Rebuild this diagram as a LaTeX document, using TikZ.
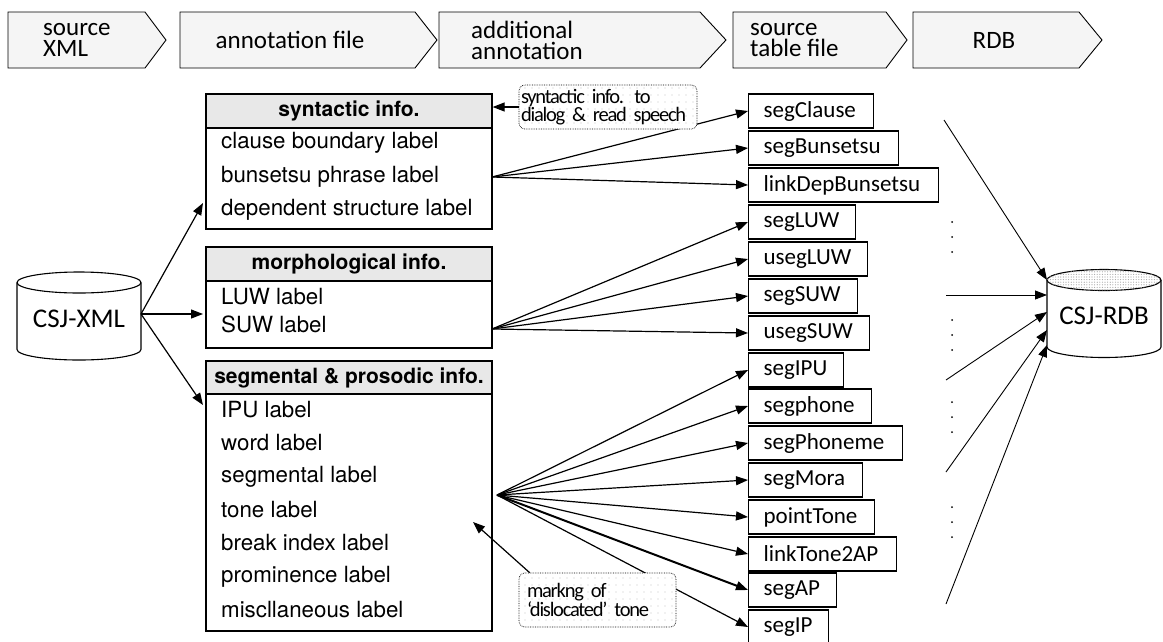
\documentclass[tikz,border=0pt]{standalone}
\usepackage{fontspec}
\setmainfont{Carlito}
\newfontfamily\gothic{TeX Gyre Heros}
\newfontfamily\notefont[LetterSpace=-6,WordSpace=0.7]{Carlito}
\usetikzlibrary{arrows.meta,patterns.meta}
\begin{document}
\begin{tikzpicture}[x=1pt,y=-1pt,
 chev/.style={draw, line width=0.9pt, fill=gray!8},
 chevtxt/.style={font=\fontsize{25}{21}\selectfont, align=left, inner sep=0pt},
 hdr/.style={draw, line width=1.3pt, fill=gray!18, minimum width=286pt, inner sep=0pt, font=\gothic\bfseries\fontsize{21}{24}\selectfont},
 bodybox/.style={draw, line width=1.3pt, fill=white, inner sep=0pt, minimum width=286pt},
 row/.style={anchor=west, inner sep=0pt, font=\gothic\fontsize{22.3}{24}\selectfont},
 tbl/.style={draw, line width=1.2pt, anchor=west, minimum height=34pt, inner xsep=15pt, inner ysep=0pt, align=left, font=\fontsize{23}{24}\selectfont},
 arr/.style={line width=1.2pt, -{Triangle[length=12pt,width=9pt]}},
 rarr/.style={line width=0.9pt, -{Triangle[length=12pt,width=9pt]}},
 note/.style={draw, densely dotted, line width=0.7pt, rounded corners=6pt, fill=white, postaction={pattern={Dots[radius=0.7pt,distance=7pt]}, pattern color=gray!45}, inner ysep=0pt, font=\notefont\fontsize{20.5}{17}\selectfont, align=left},
 cyl/.style={draw, line width=1.1pt, fill=white},
 dot/.style={fill=black, circle, inner sep=0pt, minimum size=2pt},
]
\useasboundingbox (0,0) rectangle (1163,641);
\fill[white] (0,0) rectangle (1163,641);

% header chevrons
\draw[chev] (8,12) -- (145,12) -- (166,40) -- (145,68) -- (8,68) -- cycle;
\draw[chev] (180,12) -- (415,12) -- (437,40) -- (415,68) -- (180,68) -- cycle;
\draw[chev] (439,12) -- (700,12) -- (726,40) -- (700,68) -- (439,68) -- cycle;
\draw[chev] (733,12) -- (886,12) -- (907,40) -- (886,68) -- (733,68) -- cycle;
\draw[chev] (913,12) -- (1079,12) -- (1102,40) -- (1079,68) -- (913,68) -- cycle;
\node[chevtxt, anchor=west] (h1) at (43,40) {source\\XML};
\node[chevtxt] (h2) at (290,40) {annotation file};
\node[chevtxt, anchor=west] (h3) at (471,40) {additional\\annotation};
\node[chevtxt, anchor=west] (h4) at (750,40) {source\\table file};
\node[chevtxt] (h5) at (994,40) {RDB};

% CSJ-XML cylinder
\draw[cyl] (17,282.5) -- (17,349.5) arc[start angle=180,end angle=0,x radius=62,y radius=10.5] -- (141,282.5);
\draw[line width=1.1pt, fill=white] (79,282.5) ellipse[x radius=62,y radius=10.5];
\node[font=\fontsize{27}{30}\selectfont] (xml) at (79,319) {CSJ-XML};
\coordinate (xs) at (141,314);

% annotation boxes
\node[bodybox, minimum height=101pt] (synb) at (349,178.5) {};
\node[hdr, minimum height=34pt] (synh) at (349,111) {syntactic info.};
\node[row] (s1) at (221,143) {clause boundary label};
\node[row] (s2) at (221,177) {bunsetsu phrase label};
\node[row] (s3) at (221,210) {dependent structure label};

\node[bodybox, minimum height=67pt] (morb) at (349,314.5) {};
\node[hdr, minimum height=34pt] (morh) at (349,264) {morphological info.};
\node[row] (m1) at (221,297) {LUW label};
\node[row] (m2) at (221,324) {SUW label};

\node[bodybox, minimum height=237pt] (segb) at (349,512.5) {};
\node[hdr, minimum height=33pt] (segh) at (349,377.5) {segmental \& prosodic info.};
\node[row] (g1) at (221,410) {IPU label};
\node[row] (g2) at (221,443) {word label};
\node[row] (g3) at (221,477) {segmental label};
\node[row] (g4) at (221,510) {tone label};
\node[row] (g5) at (221,543) {break index label};
\node[row] (g6) at (221,577) {prominence label};
\node[row] (g7) at (221,610) {miscllaneous label};

\draw[arr] (xs) -- (203,203);
\draw[arr] (xs) -- (203,314);
\draw[arr] (xs) -- (203,405);

% source table boxes
\node[tbl, text width=95pt] (b1) at (748,111) {segClause};
\node[tbl, text width=120pt] (b2) at (748,148) {segBunsetsu};
\node[tbl, text width=160pt] (b3) at (748,185) {linkDepBunsetsu};
\node[tbl, text width=77pt] (b4) at (748,222) {segLUW};
\node[tbl, text width=89pt] (b5) at (748,259) {usegLUW};
\node[tbl, text width=79pt] (b6) at (748,296) {segSUW};
\node[tbl, text width=91pt] (b7) at (748,333) {usegSUW};
\node[tbl, text width=65pt] (b8) at (748,370) {segIPU};
\node[tbl, text width=93pt] (b9) at (748,406) {segphone};
\node[tbl, text width=124pt] (b10) at (748,443) {segPhoneme};
\node[tbl, text width=84pt] (b11) at (748,480) {segMora};
\node[tbl, text width=96pt] (b12) at (748,517) {pointTone};
\node[tbl, text width=118pt] (b13) at (748,554) {linkTone2AP};
\node[tbl, text width=58pt] (b14) at (748,590) {segAP};
\node[tbl, text width=50pt] (b15) at (748,627) {segIP};

% fans
\coordinate (fa) at (492,177);
\coordinate (fb) at (492,329);
\coordinate (fc) at (497,495);
\foreach \t in {b1,b2,b3} \draw[arr] (fa) -- (\t.west);
\foreach \t in {b4,b5,b6,b7} \draw[arr] (fb) -- (\t.west);
\foreach \t in {b8,b9,b10,b11,b12,b13,b15} \draw[arr] (fc) -- (\t.west);
\draw[arr, line width=2pt] (fc) -- (b14.west);

% notes
\node[note, minimum width=178pt, minimum height=44pt, text width=174pt, inner xsep=2pt] (n1) at (608,107) {syntactic info. to\\dialog \& read speech};
\draw[arr] (n1.west) -- (n1.west -| synh.east);
\node[note, minimum width=157pt, minimum height=54pt, text width=141pt, inner xsep=8pt] (n2) at (597.5,600) {markng of\\‘dislocated’ tone};
\coordinate (t0) at (473,522);
\draw[arr] ([xshift=11pt]n2.north west) -- (t0);

% CSJ-RDB cylinder
\draw[cyl] (1047,280) -- (1047,347) arc[start angle=180,end angle=0,x radius=57,y radius=10.5] -- (1161,280);
\draw[line width=1.1pt, fill=white, postaction={pattern={Dots[radius=0.6pt,distance=2.6pt]}, pattern color=gray!70}] (1104,280) ellipse[x radius=57,y radius=10.5];
\node[font=\fontsize{27}{30}\selectfont] (rdb) at (1104,316) {CSJ-RDB};
\coordinate (t1) at (1047,280);
\coordinate (t2) at (1047,295);
\coordinate (t3) at (1047,312);
\coordinate (t4) at (1047,330);
\coordinate (t5) at (1047,345);
\coordinate (r1) at (944,120);
\coordinate (r2) at (946,295);
\coordinate (r3) at (946,380);
\coordinate (r4) at (946,472);
\coordinate (r5) at (946,604);
\foreach \i in {1,...,5} \draw[rarr] (r\i) -- (t\i);

% dots
\foreach \y in {237,335,417,522} {
  \node[dot] at (952,\y-15) {};
  \node[dot] at (952,\y) {};
  \node[dot] at (952,\y+15) {};
}
\end{tikzpicture}
\end{document}
